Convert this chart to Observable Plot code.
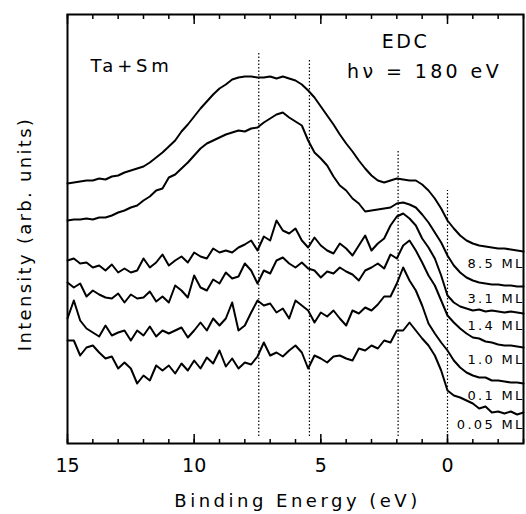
<!DOCTYPE html>
<html><head><meta charset="utf-8">
<script src="https://cdn.jsdelivr.net/npm/d3@7"></script>
<script src="https://cdn.jsdelivr.net/npm/@observablehq/plot@0.6"></script>
<style>
html,body{margin:0;padding:0;background:#fff;}
#chart svg{display:block;}
</style></head><body><div id="chart"></div>
<script>
// Binding energy grid (eV)
const energy = [15,14.75,14.5,14.25,14,13.75,13.5,13.25,13,12.75,12.5,12.25,12,11.75,11.5,11.25,11,10.75,10.5,10.25,10,9.75,9.5,9.25,9,8.75,8.5,8.25,8,7.75,7.5,7.25,7,6.75,6.5,6.25,6,5.75,5.5,5.25,5,4.75,4.5,4.25,4,3.75,3.5,3.25,3,2.75,2.5,2.25,2,1.75,1.5,1.25,1,0.75,0.5,0.25,0,-0.25,-0.5,-0.75,-1,-1.25,-1.5,-1.75,-2,-2.25,-2.5,-2.75,-3];

// Intensities (arb. units, offset curves)
const edc_8_5 = [260,261,262,263,263,265,264,267,268,271,273,275,277,281,286,291,297,303,312,319,327,335,342,349,355,359,364,366,367,367,366,366,367,365,367,365,363,359,353,346,337,328,319,309,300,292,283,275,268,263,261,263,265,264,263,263,259,253,245,235,223,215,208,203,200,198,197,196,195,195,194,193,192];
const edc_3_1 = [223,224,224,225,224,226,226,228,231,233,236,238,243,247,253,255,266,269,275,281,288,295,300,303,306,309,311,313,312,315,316,321,325,329,331,326,322,318,303,291,285,278,267,258,253,245,240,232,233,234,235,236,240,241,239,236,229,221,211,201,188,178,171,166,163,161,160,159,159,158,158,157,157];
const edc_1_4 = [183,185,180,181,176,178,173,179,171,175,171,173,185,176,181,189,178,183,187,181,191,187,185,195,191,193,191,196,199,203,193,207,203,223,213,210,215,203,196,206,198,193,190,200,195,188,198,208,193,200,205,218,227,230,225,218,205,196,185,168,148,141,137,135,133,134,132,133,132,131,132,131,130];
const edc_1_0 = [161,156,160,147,153,149,146,145,150,141,149,145,146,152,142,147,141,158,153,146,168,156,153,164,160,171,165,167,180,173,160,173,170,183,186,180,176,181,175,173,166,172,170,176,172,169,163,173,176,180,175,189,185,198,203,193,181,168,158,143,128,121,115,110,106,105,102,101,99,98,98,97,96];
const edc_0_1 = [125,143,123,115,111,107,118,108,111,113,103,113,108,117,107,113,110,113,116,106,113,121,113,125,118,125,141,113,118,131,143,138,140,131,135,125,143,138,133,121,131,127,133,125,118,133,130,136,133,139,147,147,160,176,163,153,138,120,110,101,93,83,76,71,68,66,66,63,63,62,61,61,60];
const edc_0_05 = [103,103,88,96,98,91,85,87,75,81,75,60,68,63,78,73,78,70,80,73,83,75,86,80,93,77,85,75,81,79,87,101,88,91,87,93,98,91,75,88,85,81,87,88,85,83,95,93,98,95,103,101,113,113,121,113,105,98,88,73,53,48,46,43,40,35,37,31,32,30,32,29,31];

const coverageLabels = ["8.5 ML","3.1 ML","1.4 ML","1.0 ML","0.1 ML","0.05 ML"];
const seriesValues = [edc_8_5, edc_3_1, edc_1_4, edc_1_0, edc_0_1, edc_0_05];

// Dotted reference lines (eV) and their vertical extent (arb. units)
const featureEnergy = [7.45, 5.45, 1.95, 0];
const featureTop = [390, 385, 293, 253];
const featureBottom = [7, 7, 7, 0];

const majorTicks = [15, 10, 5, 0];
const minorTicks = [15,14,13,12,11,10,9,8,7,6,5,4,3,2,1,0,-1,-2,-3];

const rows = [];
seriesValues.forEach((vals, k) => vals.forEach((v, i) => rows.push({E: energy[i], I: v, s: coverageLabels[k]})));
const ends = seriesValues.map((vals, k) => ({label: coverageLabels[k], I: vals[vals.length - 1]}));
const features = featureEnergy.map((e, i) => ({E: e, top: featureTop[i], bottom: featureBottom[i]}));

const FONT = "DejaVu Sans";
const YMAX = 429;

const chart = Plot.plot({
  width: 526,
  height: 514,
  marginLeft: 67,
  marginRight: 3,
  marginTop: 14,
  marginBottom: 71,
  style: {fontFamily: FONT, background: "#fff"},
  x: {domain: [15, -3], axis: null},
  y: {domain: [0, YMAX], axis: null},
  marks: [
    Plot.ruleX(features, {x: "E", y1: "bottom", y2: "top", stroke: "#000", strokeWidth: 1.2, strokeDasharray: "1.5,2"}),
    Plot.line(rows, {x: "E", y: "I", z: "s", stroke: "#000", strokeWidth: 2, strokeLinejoin: "round"}),
    // inward ticks bottom and top
    Plot.ruleX(minorTicks, {x: d => d, y1: 0, y2: 4, stroke: "#000", strokeWidth: 1.5}),
    Plot.ruleX(majorTicks, {x: d => d, y1: 0, y2: 9, stroke: "#000", strokeWidth: 1.5}),
    Plot.ruleX(minorTicks, {x: d => d, y1: YMAX - 5, y2: YMAX, stroke: "#000", strokeWidth: 1.5}),
    Plot.ruleX(majorTicks, {x: d => d, y1: YMAX - 10, y2: YMAX, stroke: "#000", strokeWidth: 1.5}),
    Plot.frame({stroke: "#000", strokeWidth: 2}),
    // tick labels
    Plot.text(majorTicks, {x: d => d, frameAnchor: "bottom", dy: 22, text: d => String(d), fontSize: 19, fill: "#000", lineAnchor: "middle", fontFamily: FONT}),
    // axis titles
    Plot.text(["Binding Energy (eV)"], {frameAnchor: "bottom", dy: 58, dx: 2, fontSize: 18, fill: "#000", textAnchor: "middle", lineAnchor: "middle", fontFamily: FONT}),
    Plot.text(["Intensity (arb. units)"], {frameAnchor: "left", dx: -42, dy: 5, rotate: -90, fontSize: 18, fill: "#000", textAnchor: "middle", lineAnchor: "middle", fontFamily: FONT}),
    // annotations
    Plot.text(["Ta+Sm"], {frameAnchor: "top-left", dx: 23, dy: 52, textAnchor: "start", lineAnchor: "middle", fontSize: 18, fill: "#000", fontFamily: FONT}),
    Plot.text(["EDC"], {frameAnchor: "top-right", dx: -118, dy: 27, textAnchor: "middle", lineAnchor: "middle", fontSize: 19, fill: "#000", fontFamily: FONT}),
    Plot.text(["h\u03bd = 180 eV"], {frameAnchor: "top-right", dx: -99, dy: 57, textAnchor: "middle", lineAnchor: "middle", fontSize: 19, fill: "#000", fontFamily: FONT}),
    // coverage labels
    Plot.text(ends, {y: "I", text: "label", frameAnchor: "right", dx: 1, dy: 12, textAnchor: "end", lineAnchor: "middle", fontSize: 13, fill: "#000", fontFamily: FONT})
  ]
});

// wide letter spacing of the original typesetting
const spacing = {
  "Binding Energy (eV)": 3.5,
  "Intensity (arb. units)": 2.3,
  "Ta+Sm": 3.8,
  "EDC": 2.5,
  "h\u03bd = 180 eV": 3.4
};
d3.select(chart).selectAll("text").each(function() {
  const t = this.textContent;
  if (spacing[t] != null) this.style.letterSpacing = spacing[t] + "px";
  else if (coverageLabels.includes(t)) this.style.letterSpacing = "2.3px";
});
document.getElementById("chart").appendChild(chart);
</script>
</body></html>
